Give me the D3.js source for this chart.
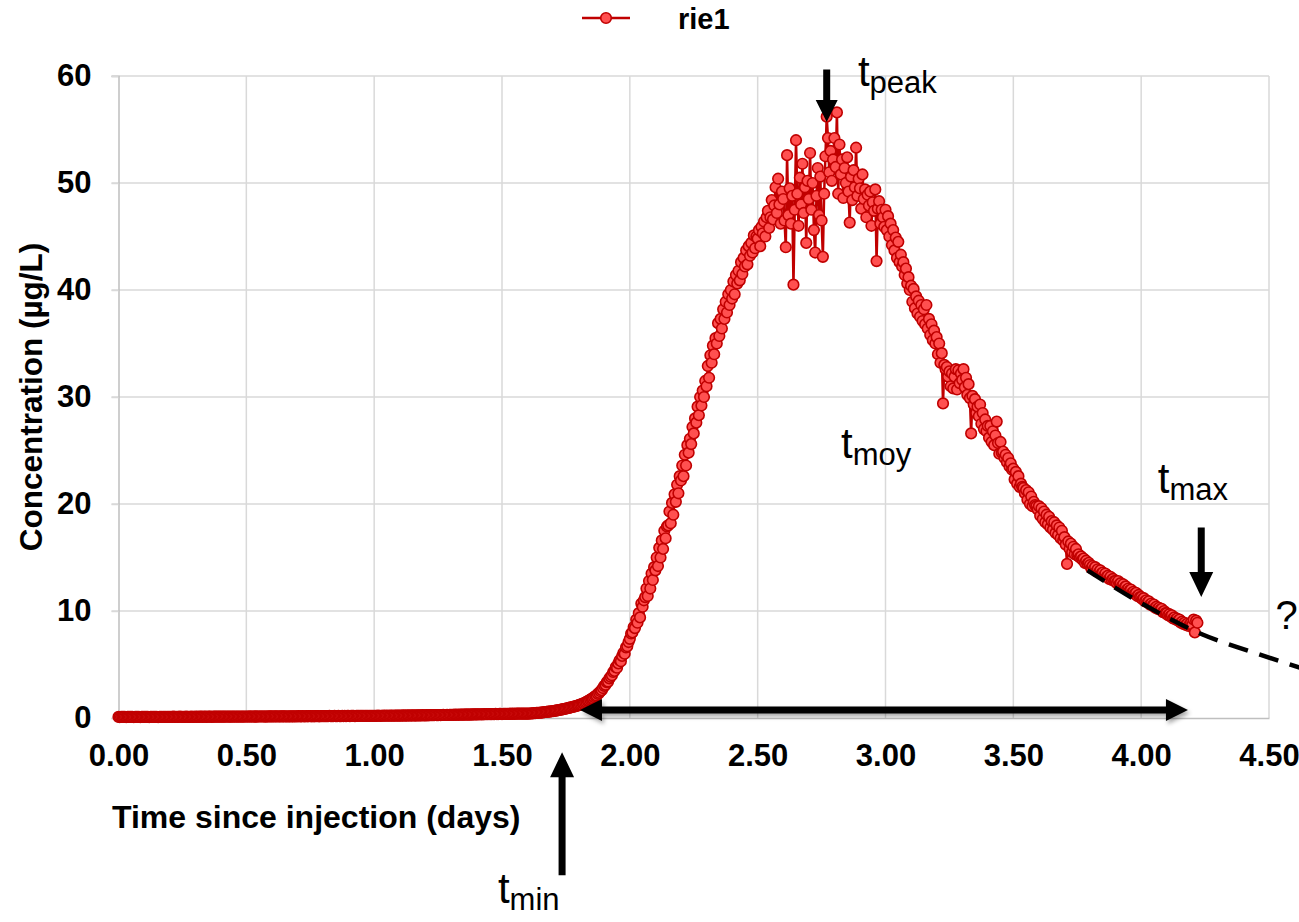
<!DOCTYPE html>
<html>
<head>
<meta charset="utf-8">
<script src="https://cdn.jsdelivr.net/npm/d3@7"></script>
<style>
body { margin: 0; background: #fff; }
svg { display: block; font-family: Arial, "Liberation Sans", sans-serif; }
</style>
</head>
<body>
<svg id="chart" width="1299" height="922"></svg>
<script>
// sampling interval of the probe record (days)
const step = 0.005;

// concentration, t = 0.000 .. 1.595 (flat background)
const baseline = [
  0.10,0.09,0.10,0.11,0.10,0.10,0.09,0.10,0.11,0.10,0.10,0.10,0.09,0.10,0.11,0.10,0.10,0.09,0.10,0.10,
  0.10,0.11,0.10,0.10,0.09,0.10,0.11,0.10,0.10,0.11,0.10,0.09,0.10,0.10,0.11,0.10,0.10,0.11,0.10,0.10,
  0.11,0.10,0.10,0.12,0.10,0.11,0.10,0.11,0.12,0.10,0.11,0.11,0.10,0.12,0.11,0.10,0.11,0.12,0.11,0.11,
  0.12,0.11,0.12,0.11,0.12,0.13,0.11,0.12,0.12,0.11,0.13,0.12,0.12,0.11,0.12,0.13,0.12,0.12,0.13,0.12,
  0.13,0.12,0.13,0.12,0.13,0.14,0.12,0.13,0.13,0.12,0.14,0.13,0.13,0.14,0.12,0.13,0.14,0.13,0.13,0.14,
  0.14,0.13,0.14,0.15,0.13,0.14,0.14,0.15,0.13,0.14,0.15,0.14,0.14,0.15,0.14,0.13,0.15,0.14,0.15,0.15,
  0.15,0.14,0.15,0.16,0.15,0.14,0.16,0.15,0.15,0.16,0.15,0.16,0.14,0.15,0.16,0.15,0.16,0.15,0.16,0.16,
  0.16,0.17,0.15,0.16,0.17,0.16,0.16,0.17,0.16,0.17,0.18,0.16,0.17,0.16,0.17,0.18,0.17,0.16,0.17,0.18,
  0.17,0.18,0.17,0.18,0.17,0.19,0.18,0.17,0.18,0.19,0.18,0.18,0.19,0.17,0.18,0.19,0.18,0.19,0.18,0.19,
  0.19,0.18,0.19,0.20,0.19,0.18,0.20,0.19,0.20,0.19,0.21,0.19,0.20,0.20,0.19,0.21,0.20,0.20,0.21,0.20,
  0.20,0.21,0.20,0.22,0.21,0.20,0.21,0.22,0.21,0.22,0.21,0.23,0.21,0.22,0.22,0.21,0.23,0.22,0.23,0.22,
  0.23,0.22,0.23,0.24,0.22,0.23,0.24,0.23,0.24,0.23,0.25,0.24,0.23,0.25,0.24,0.25,0.24,0.25,0.26,0.25,
  0.25,0.26,0.25,0.27,0.26,0.26,0.27,0.26,0.28,0.27,0.27,0.28,0.27,0.28,0.29,0.28,0.28,0.29,0.28,0.30,
  0.29,0.30,0.29,0.31,0.30,0.31,0.30,0.32,0.31,0.31,0.32,0.31,0.33,0.32,0.32,0.33,0.32,0.34,0.33,0.34,
  0.33,0.34,0.35,0.34,0.35,0.34,0.36,0.35,0.36,0.35,0.37,0.36,0.36,0.37,0.36,0.38,0.37,0.37,0.38,0.38,
  0.37,0.38,0.39,0.38,0.39,0.38,0.39,0.40,0.39,0.40,0.39,0.40,0.41,0.40,0.40,0.41,0.40,0.41,0.40,0.41
];

// concentration, t = 1.600 .. 4.220 (tracer breakthrough)
const response = [
  0.40,0.41,0.42,0.43,0.44,0.45,0.46,0.47,0.48,0.49,0.50,0.51,0.53,0.54,0.56,0.57,0.59,0.60,0.62,0.63,
  0.65,0.67,0.69,0.71,0.73,0.75,0.78,0.80,0.83,0.86,0.88,0.91,0.94,0.97,1.00,1.03,1.06,1.09,1.12,1.16,
  1.20,1.25,1.28,1.35,1.38,1.45,1.50,1.58,1.62,1.72,1.80,1.85,1.95,2.05,2.10,2.25,2.35,2.50,2.60,2.80,
  3.00,3.10,3.35,3.40,3.70,3.85,4.00,4.30,4.40,4.75,4.70,5.10,5.40,5.30,5.80,6.10,6.00,6.60,6.70,7.10,
  7.40,7.90,8.00,8.50,8.40,9.20,8.90,9.80,9.40,10.7,10.4,11.0,11.3,12.1,11.4,12.8,12.1,13.5,12.9,14.1,
  13.8,15.0,14.2,15.9,15.0,16.6,15.8,17.5,16.8,17.9,18.0,19.3,18.2,20.1,19.0,20.9,20.2,21.8,21.0,22.6,
  22.2,23.6,22.6,24.6,23.6,25.5,24.8,26.1,25.6,27.2,26.6,28.0,27.6,29.1,28.3,30.0,29.2,30.6,30.0,31.5,
  31.0,32.9,31.8,33.9,33.2,34.8,34.0,35.5,35.0,36.9,35.7,37.3,36.4,38.2,37.3,38.9,37.9,39.6,38.6,40.0,
  39.2,40.8,39.6,41.4,40.6,41.8,40.9,42.6,41.5,43.0,42.2,43.7,42.4,44.1,43.2,44.4,43.5,45.1,43.9,45.0,
  44.8,45.6,44.1,45.9,45.3,46.4,45.0,46.8,47.4,45.8,46.8,48.4,46.6,47.9,49.6,47.2,50.4,48.0,46.2,49.2,
  48.5,46.5,44.0,52.6,47.0,49.5,46.2,48.8,40.5,47.5,54.0,49.0,46.0,50.5,48.0,51.8,47.2,49.6,44.4,50.2,
  48.5,52.8,47.5,50.0,45.6,43.5,48.8,51.4,47.0,50.6,46.5,43.1,49.0,52.5,56.2,54.2,51.0,53.0,50.2,52.2,
  54.2,51.5,56.6,49.0,53.6,50.8,52.2,48.6,51.4,50.0,52.4,49.2,46.3,50.6,48.4,51.2,49.6,53.3,48.8,50.4,
  49.5,47.6,50.8,48.5,49.4,46.8,48.9,47.9,49.2,46.0,48.2,47.4,49.4,42.7,47.6,48.3,46.2,47.5,46.8,45.9,
  47.5,45.6,46.9,45.0,46.2,44.2,45.6,43.7,44.9,43.0,44.5,42.6,43.3,42.2,42.6,41.4,42.0,40.6,41.2,40.0,
  40.4,38.9,40.1,38.3,39.4,37.8,39.0,37.5,38.6,37.1,38.2,36.8,38.6,36.4,37.3,35.8,36.8,35.3,36.2,35.0,
  35.6,34.0,35.0,33.2,34.1,29.4,33.0,32.6,32.8,31.9,32.4,31.0,32.2,30.8,31.9,32.6,30.7,32.5,31.3,32.2,
  31.6,32.6,30.9,31.8,30.2,31.2,29.9,26.6,30.1,29.3,29.8,28.5,29.1,28.2,29.3,27.5,28.5,27.0,27.9,26.8,
  27.3,26.2,27.3,25.8,26.8,25.5,26.4,27.7,25.7,24.7,25.8,24.8,24.9,24.3,24.6,23.9,24.3,23.5,23.8,23.2,
  23.3,22.3,23.0,21.9,22.6,21.6,21.9,21.6,21.5,21.0,21.3,20.4,21.1,20.0,20.7,19.8,20.2,19.9,19.8,19.5,
  19.8,18.9,19.6,18.6,19.3,18.3,19.0,18.1,18.8,17.8,18.4,17.6,18.3,17.3,18.0,17.1,17.8,16.8,17.5,16.6,
  16.9,16.2,14.4,16.5,15.8,16.3,15.5,16.0,15.3,15.8,15.2,15.3,15.0,15.1,14.8,14.9,14.5,14.7,14.4,14.5,
  14.3,14.0,14.2,13.9,14.1,13.7,13.9,13.6,13.8,13.5,13.6,13.3,13.5,13.2,13.3,13.0,13.2,12.9,13.0,12.8,
  12.8,12.6,12.8,12.5,12.6,12.3,12.5,12.2,12.3,12.0,12.1,11.9,12.0,11.7,11.8,11.6,11.7,11.4,11.5,11.3,
  11.3,11.1,11.2,10.9,11.0,10.8,10.9,10.6,10.7,10.5,10.6,10.3,10.4,10.2,10.3,10.1,10.2,9.9,10.0,9.8,
  9.8,9.6,9.7,9.5,9.6,9.3,9.4,9.2,9.3,9.1,9.2,8.9,9.0,8.8,8.9,8.7,8.8,8.6,8.7,8.9,
  8.7,9.2,8.0,9.1,8.9
];

// tail extrapolation drawn as a dashed curve [days, ug/L]
const tailFit = [[3.79, 13.8], [4.01, 10.6], [4.24, 7.8], [4.43, 6.2], [4.62, 4.7]];

const xTicks = [0, 0.5, 1, 1.5, 2, 2.5, 3, 3.5, 4, 4.5];
const yTicks = [0, 10, 20, 30, 40, 50, 60];

// annotation anchors in data units
const peakLevel = 52.5, peakSpan = [2.10, 3.575];
const tPeak = 2.77, tMin = 1.735, tMax = 4.235;
const spanArrow = [1.805, 4.183], spanLevel = 0.75;

const svg = d3.select("#chart");
const x = d3.scaleLinear().domain([0, 4.5]).range([118.5, 1269]);
const y = d3.scaleLinear().domain([0, 60]).range([718, 76]);

const data = baseline.concat(response).map((c, i) => ({t: +(i * step).toFixed(3), c: c}));

const defs = svg.append("defs");
defs.append("filter").attr("id", "shadow")
    .attr("x", "-5%").attr("y", "-100%").attr("width", "110%").attr("height", "400%")
    .append("feDropShadow")
    .attr("dx", 2).attr("dy", 3).attr("stdDeviation", 2)
    .attr("flood-color", "#000").attr("flood-opacity", 0.35);

// grid
svg.append("g").selectAll("line").data(xTicks.slice(1)).enter().append("line")
    .attr("x1", d => x(d)).attr("x2", d => x(d))
    .attr("y1", y(0)).attr("y2", y(60))
    .attr("stroke", "#d9d9d9").attr("stroke-width", 1.5);
svg.append("g").selectAll("line").data(yTicks.slice(1)).enter().append("line")
    .attr("x1", x(0) - 7).attr("x2", x(4.5))
    .attr("y1", d => y(d)).attr("y2", d => y(d))
    .attr("stroke", "#d9d9d9").attr("stroke-width", 1.5);

// axes
const xAxis = svg.append("g").attr("transform", `translate(0,${y(0)})`)
    .call(d3.axisBottom(x).tickValues(xTicks).tickFormat(d3.format(".2f")).tickSize(0).tickPadding(26));
const yAxis = svg.append("g").attr("transform", `translate(${x(0)},0)`)
    .call(d3.axisLeft(y).tickValues(yTicks).tickSize(7).tickPadding(20));
[xAxis, yAxis].forEach(g => {
  g.select(".domain").attr("stroke", "#bfbfbf").attr("stroke-width", 1.5);
  g.selectAll(".tick line").attr("stroke", "#d9d9d9").attr("stroke-width", 1.5);
  g.selectAll("text").attr("fill", "#000").style("font-size", "31px").style("font-weight", "bold");
});

svg.append("text")
    .attr("x", 112).attr("y", 828)
    .style("font-size", "32px").style("font-weight", "bold")
    .text("Time since injection (days)");
svg.append("text")
    .attr("transform", "translate(42,397) rotate(-90)")
    .attr("text-anchor", "middle")
    .style("font-size", "31.5px").style("font-weight", "bold")
    .text("Concentration (µg/L)");

// series
const line = d3.line().x(d => x(d.t)).y(d => y(d.c));
svg.append("path").datum(data)
    .attr("d", line).attr("fill", "none")
    .attr("stroke", "#c00000").attr("stroke-width", 2.5);
svg.append("g").selectAll("circle").data(data).enter().append("circle")
    .attr("cx", d => x(d.t)).attr("cy", d => y(d.c)).attr("r", 5.3)
    .attr("fill", "#ff5050").attr("stroke", "#c00000").attr("stroke-width", 1.6);

// legend
svg.append("line").attr("x1", 582).attr("x2", 630).attr("y1", 18).attr("y2", 18)
    .attr("stroke", "#c00000").attr("stroke-width", 2.5);
svg.append("circle").attr("cx", 606).attr("cy", 18).attr("r", 5.3)
    .attr("fill", "#ff5050").attr("stroke", "#c00000").attr("stroke-width", 1.6);
svg.append("text").attr("x", 678).attr("y", 29)
    .style("font-size", "29px").style("font-weight", "bold").text("rie1");

// annotations
function arrowPath(x1, y1, x2, y2, w, hl, hw, both) {
  const len = Math.hypot(x2 - x1, y2 - y1);
  const ux = (x2 - x1) / len, uy = (y2 - y1) / len;
  const p = (a, b) => [x1 + ux * a - uy * b, y1 + uy * a + ux * b];
  const pts = both
    ? [p(0, 0), p(hl, hw / 2), p(hl, w / 2), p(len - hl, w / 2), p(len - hl, hw / 2), p(len, 0),
       p(len - hl, -hw / 2), p(len - hl, -w / 2), p(hl, -w / 2), p(hl, -hw / 2)]
    : [p(0, w / 2), p(len - hl, w / 2), p(len - hl, hw / 2), p(len, 0),
       p(len - hl, -hw / 2), p(len - hl, -w / 2), p(0, -w / 2)];
  return "M" + pts.map(q => q.join(",")).join("L") + "Z";
}

svg.append("line")
    .attr("x1", x(peakSpan[0])).attr("x2", x(peakSpan[1]))
    .attr("y1", y(peakLevel)).attr("y2", y(peakLevel))
    .attr("stroke", "#000").attr("stroke-width", 7)
    .attr("stroke-dasharray", "23,9").attr("filter", "url(#shadow)");

svg.append("path").datum(tailFit)
    .attr("d", d3.line().x(d => x(d[0])).y(d => y(d[1])).curve(d3.curveMonotoneX))
    .attr("fill", "none").attr("stroke", "#000").attr("stroke-width", 4.5)
    .attr("stroke-dasharray", "20,12");

svg.append("path")
    .attr("d", arrowPath(x(spanArrow[0]), y(spanLevel), x(spanArrow[1]), y(spanLevel), 7, 22, 22, true))
    .attr("fill", "#000").attr("filter", "url(#shadow)");
svg.append("path")
    .attr("d", arrowPath(x(tPeak), y(60.6), x(tPeak), y(55.7), 7, 22, 22, false))
    .attr("fill", "#000");
svg.append("path")
    .attr("d", arrowPath(x(tMax), y(17.8), x(tMax), y(11.3), 7, 25, 24, false))
    .attr("fill", "#000");
svg.append("path")
    .attr("d", arrowPath(x(tMin), y(-14.7), x(tMin), y(-3.2), 7, 25, 24, false))
    .attr("fill", "#000");

const labels = [
  {sub: "peak", t: 2.892, c: 59.1},
  {sub: "moy", t: 2.826, c: 24.3},
  {sub: "max", t: 4.065, c: 21.0},
  {sub: "min", t: 1.484, c: -17.3}
];
labels.forEach(l => {
  const txt = svg.append("text").attr("x", x(l.t)).attr("y", y(l.c)).style("font-size", "42px");
  txt.append("tspan").text("t");
  txt.append("tspan").attr("dy", 7).style("font-size", "31px").text(l.sub);
});
svg.append("text").attr("x", x(4.525)).attr("y", y(8.3))
    .style("font-size", "40px").text("?");
</script>
</body>
</html>
